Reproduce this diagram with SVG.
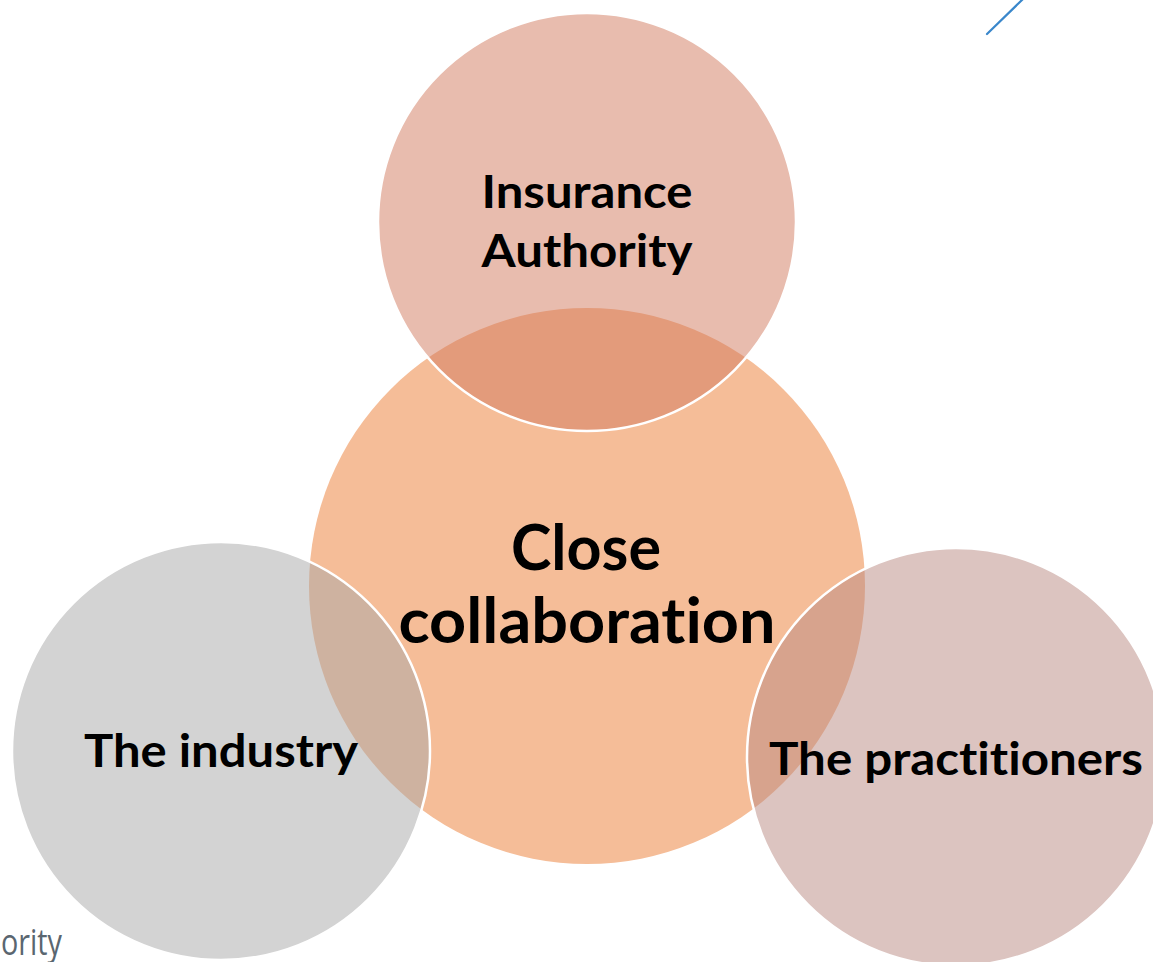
<svg xmlns="http://www.w3.org/2000/svg" width="1153" height="962" viewBox="0 0 1153 962">
  <style>
    .lbl { font-family: Lato, "Open Sans", sans-serif; font-weight: 700; fill: #000; text-anchor: middle; font-variant-ligatures: none; font-feature-settings: "liga" 0, "dlig" 0; }
    .ring { stroke: #fff; stroke-width: 2.5; }
  </style>
  <rect width="1153" height="962" fill="#fff"/>
  <!-- corner decorations -->
  <line x1="987" y1="34" x2="1023" y2="-1" stroke="#3A87CB" stroke-width="2.2" stroke-linecap="round"/>
  <text x="1" y="955" font-family="'Open Sans', sans-serif" font-size="36" fill="#5A6670" textLength="61" lengthAdjust="spacingAndGlyphs">ority</text>

  <g id="center">
    <circle cx="587" cy="586" r="278" fill="#F5BD98"/>
  </g>
  <g id="authority">
    <circle class="ring" cx="587" cy="222" r="209" fill="#D17A5E" fill-opacity="0.5"/>
  </g>
  <g id="industry">
    <circle class="ring" cx="221" cy="751" r="209" fill="#A7A7A7" fill-opacity="0.5"/>
  </g>
  <g id="practitioners">
    <circle class="ring" cx="956" cy="757" r="209" fill="#B98981" fill-opacity="0.5"/>
  </g>

  <g id="labels">
    <text class="lbl" x="587" y="208" font-size="46" textLength="211" lengthAdjust="spacingAndGlyphs">Insurance</text>
    <text class="lbl" x="587" y="267" font-size="46" textLength="211" lengthAdjust="spacingAndGlyphs">Authority</text>
    <text class="lbl" x="586" y="570" font-size="63" textLength="150" lengthAdjust="spacingAndGlyphs">Close</text>
    <text class="lbl" x="587" y="643" font-size="63" textLength="377" lengthAdjust="spacingAndGlyphs">collaboration</text>
    <text class="lbl" x="221" y="767" font-size="46" textLength="274" lengthAdjust="spacingAndGlyphs">The industry</text>
    <text class="lbl" x="956" y="775" font-size="46" textLength="374" lengthAdjust="spacingAndGlyphs">The practitioners</text>
  </g>
</svg>
